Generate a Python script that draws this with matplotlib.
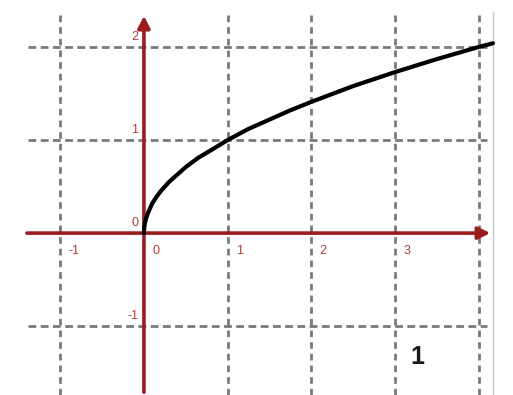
import numpy as np
import matplotlib
matplotlib.use("Agg")
import matplotlib.pyplot as plt

plt.rcParams['font.family'] = ['Liberation Sans', 'DejaVu Sans']

# values (y = sqrt x)
curve_x = [0, 0.001, 0.005, 0.01, 0.02, 0.03, 0.05, 0.07, 0.1, 0.15, 0.2, 0.25, 0.3,
           0.4, 0.5, 0.65, 0.8, 1.0, 1.25, 1.5, 1.75, 2.0, 2.5, 3.0, 3.5, 4.0, 4.17]
curve_y = [0, 0.03, 0.07, 0.1, 0.14, 0.17, 0.22, 0.26, 0.32, 0.39, 0.45, 0.5, 0.55,
           0.63, 0.71, 0.81, 0.89, 1.0, 1.12, 1.22, 1.32, 1.41, 1.58, 1.73, 1.87, 2.0, 2.04]
x_ticks = [-1, 0, 1, 2, 3]
y_ticks = [-1, 0, 1, 2]
x_grid = [-1, 1, 2, 3, 4]
y_grid = [-1, 1, 2]
panel_label = "1"

axis_col = "#9b1c1c"
label_col = "#b03a3a"
grid_col = "#7a7a7a"

fig = plt.figure(figsize=(5.13, 3.95), dpi=100)
ax = fig.add_axes([0, 0, 1, 1])
ax.axis('off')
ax.set_xlim(-1.72, 4.41)
ax.set_ylim(-1.74, 2.505)

for gx in x_grid:
    ax.axvline(gx, ymin=0, ymax=0.97, color=grid_col, lw=2.0, dashes=(2.4, 1.8), zorder=1)
for gy in y_grid:
    ax.axhline(gy, xmin=0.055, xmax=0.949, color=grid_col, lw=2.0, dashes=(2.8, 1.6), zorder=1)

# thin border on the right
ax.axvline(4.17, ymin=0, ymax=0.97, color="#c8c8c8", lw=1, zorder=0)

# axes with arrows
ax.annotate("", xy=(0.961, 0), xytext=(0.047, 0),
            xycoords=('axes fraction', 'data'), textcoords=('axes fraction', 'data'),
            arrowprops=dict(arrowstyle='-|>,head_width=0.28,head_length=0.55',
                            color=axis_col, lw=2.6, mutation_scale=13), zorder=3)
ax.annotate("", xy=(0, 0.967), xytext=(0, 0),
            xycoords=('data', 'axes fraction'), textcoords=('data', 'axes fraction'),
            arrowprops=dict(arrowstyle='-|>,head_width=0.28,head_length=0.55',
                            color=axis_col, lw=2.6, mutation_scale=13), zorder=3)

ax.plot(curve_x, curve_y, color="black", lw=3, solid_capstyle='round', zorder=4)

for t in x_ticks:
    ax.text(t + 0.1, -0.13, str(t), color=label_col, fontsize=9, ha='left', va='top', zorder=5)
for t in y_ticks:
    ax.text(-0.07, t + 0.04, str(t), color=label_col, fontsize=9, ha='right', va='bottom', zorder=5)

ax.text(3.27, -1.33, panel_label, fontsize=18, fontweight='bold', color="#1a1a1a",
        ha='center', va='center')

fig.savefig("out.png", dpi=100)
